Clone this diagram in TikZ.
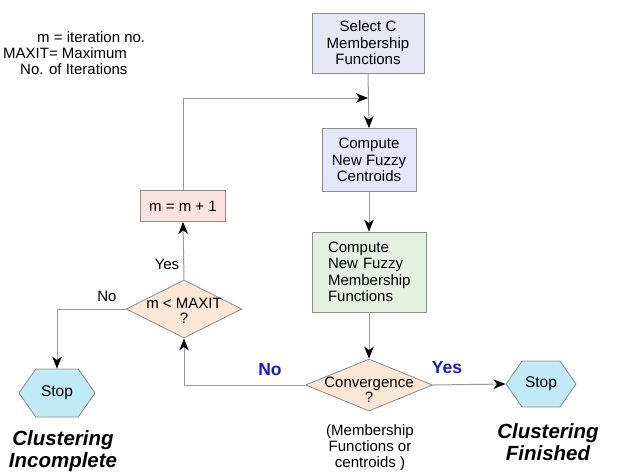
\documentclass[tikz,border=0pt]{standalone}
\usepackage{fontspec}
\setmainfont{Liberation Sans}
\usetikzlibrary{shapes.geometric,shapes.symbols,arrows.meta}
\definecolor{boxline}{HTML}{8C8C8C}
\definecolor{lineg}{HTML}{9A9A9A}
\definecolor{lav}{HTML}{E7E6F4}
\definecolor{lavb}{HTML}{E6E6FA}
\definecolor{grn}{HTML}{E4F0E0}
\definecolor{pnk}{HTML}{F8E3E1}
\definecolor{pch}{HTML}{FCE6D6}
\definecolor{cyn}{HTML}{C2E9F6}
\definecolor{lblue}{HTML}{1A1ACC}
\tikzset{
  procbox/.style={draw=boxline, line width=0.8pt, inner sep=2pt, font=\fontsize{15}{16.5}\selectfont},
  decide/.style={diamond, draw=boxline, line width=0.8pt, fill=pch, inner sep=0pt},
  dtext/.style={align=center, font=\fontsize{15}{15}\selectfont},
  stopnode/.style={signal, signal to=east and west, signal pointer angle=110, draw=boxline, line width=0.8pt, fill=cyn, inner sep=0pt, font=\fontsize{15.5}{17}\selectfont},
  conn/.style={draw=lineg, line width=1pt, -{Stealth[black,length=12pt,width=9.5pt,inset=3.5pt]}},
  lbl/.style={font=\fontsize{15}{16}\selectfont},
  blbl/.style={font=\fontsize{17.5}{19}\selectfont\bfseries, text=lblue},
  big/.style={font=\fontsize{20.5}{21.5}\selectfont\bfseries\itshape, align=center}
}
\begin{document}
\begin{tikzpicture}[x=1pt,y=-1pt]
\useasboundingbox (0,0) rectangle (617,475);
% legend
\node[lbl, align=left, anchor=west, inner sep=0pt] (legend) at (3,53) {\hspace*{34pt}m = iteration no.\\MAXIT= Maximum\\\hspace*{17pt}No. of Iterations};
% boxes
\node[procbox, fill=lav, minimum width=112pt, minimum height=60pt, align=center] (sel) at (368,43) {Select C\\Membership\\Functions};
\node[procbox, fill=lavb, minimum width=94pt, minimum height=63pt, align=center] (cen) at (369,160) {Compute\\New Fuzzy\\Centroids};
\node[procbox, fill=grn, inner xsep=16pt, text width=82pt, minimum height=80pt, align=left] (mem) at (369,272) {Compute\\New Fuzzy\\Membership\\Functions};
\node[procbox, fill=pnk, minimum width=85pt, minimum height=31pt] (inc) at (183,206) {m = m + 1};
% decisions
\node[decide, minimum width=116pt, minimum height=58pt, label={[dtext, yshift=-2pt]center:m < MAXIT\\?}] (mx) at (184,309) {};
\node[decide, minimum width=127pt, minimum height=52pt, label={[dtext, yshift=-5pt]center:Convergence\\?}] (conv) at (369,385) {};
% stops
\node[stopnode, minimum width=76pt, minimum height=48pt] (stopL) at (57,393) {Stop};
\node[stopnode, minimum width=70pt, minimum height=46pt] (stopR) at (541,384) {Stop};
% texts
\node[big] (ci) at (63,451) {Clustering\\Incomplete};
\node[big] (cf) at (548,442) {Clustering\\Finished};
\node[lbl, align=center] (note) at (370,448) {(Membership\\Functions or\\centroids )};
\node[lbl] (yes1) at (167,264) {Yes};
\node[lbl] (no1) at (107,296) {No};
\node[blbl] (no2) at (270,370) {No};
\node[blbl] (yes2) at (447,368) {Yes};
% connectors
\coordinate (j) at (sel.south |- 0,98);
\draw[conn] (sel.south) -- (cen.north);
\draw[conn] (cen.south) -- (mem.north);
\draw[conn] (mem.south) -- (conv.north);
\draw[conn] (inc.north) |- (j);
\draw[conn] (mx.north) -- (inc.south);
\draw[conn] (conv.west) -| (mx.south);
\draw[conn] (mx.west) -| (stopL.north);
\draw[conn] (conv.east) -- (stopR.west);
\end{tikzpicture}
\end{document}
